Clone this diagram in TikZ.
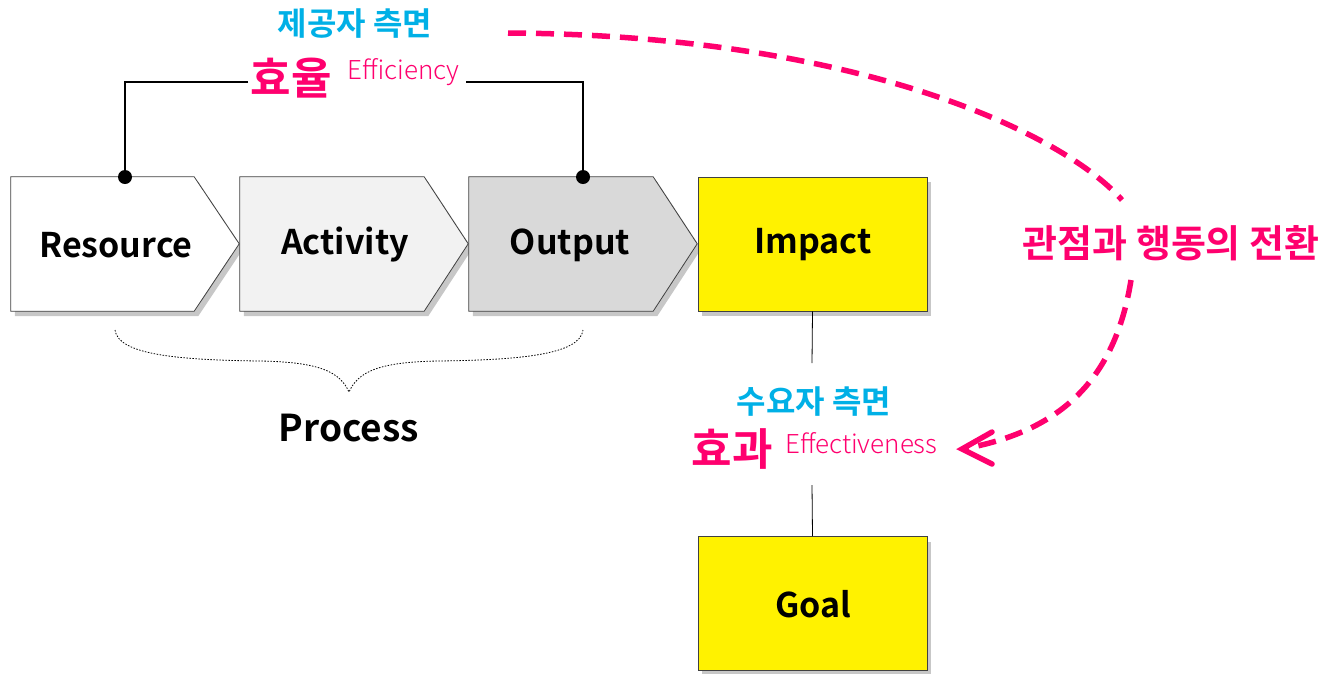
\documentclass[tikz,border=0pt]{standalone}
\usepackage{fontspec}
\setmainfont{Noto Sans CJK KR}
\newfontfamily\krb{Noto Sans CJK KR Bold}
\newfontfamily\krl{Noto Sans CJK KR Light}
\usetikzlibrary{shadows}
\definecolor{hpink}{RGB}{255,0,110}
\definecolor{hcyan}{RGB}{0,176,230}
\definecolor{hgrayA}{RGB}{242,242,242}
\definecolor{hgrayB}{RGB}{217,217,217}
\tikzset{
  stepshape/.style={draw=black!75, line width=0.8pt, drop shadow={shadow xshift=4pt, shadow yshift=-5pt, opacity=0.22, fill=black}},
  boxshape/.style={draw=black!75, line width=0.8pt, fill=yellow, minimum width=229pt, minimum height=134pt, drop shadow={shadow xshift=4pt, shadow yshift=-5pt, opacity=0.22, fill=black}},
  bigword/.style={font=\krb\fontsize{34}{36}\selectfont, text=black, inner sep=0pt},
  cyanlab/.style={font=\krb\fontsize{32}{34}\selectfont, text=hcyan, inner sep=0pt},
  pinkbig/.style={font=\krb\fontsize{44}{46}\selectfont, text=hpink, inner sep=0pt},
  pinksmall/.style={font=\krl\fontsize{26}{28}\selectfont, text=hpink, inner sep=0pt},
  pinkdash/.style={draw=hpink, line width=5.5pt, dash pattern=on 18pt off 10pt},
  bracket/.style={draw=black, line width=2.2pt},
  thinline/.style={draw=black, line width=0.8pt}
}
\begin{document}
\begin{tikzpicture}[x=1pt,y=-1pt]
\useasboundingbox (0,0) rectangle (1332,673);
% step bodies (named rectangles as anchors)
\node (res) [minimum width=183pt, minimum height=134pt, inner sep=0pt] at (102.5,244) {};
\node (act) [minimum width=184pt, minimum height=134pt, inner sep=0pt] at (332,244) {};
\node (out) [minimum width=184pt, minimum height=134pt, inner sep=0pt] at (561,244) {};
\path[stepshape, fill=white] (res.north west) -- (res.north east) -- ++(45,67) -- (res.south east) -- (res.south west) -- cycle;
\path[stepshape, fill=hgrayA] (act.north west) -- (act.north east) -- ++(44,67) -- (act.south east) -- (act.south west) -- cycle;
\path[stepshape, fill=hgrayB] (out.north west) -- (out.north east) -- ++(44,67) -- (out.south east) -- (out.south west) -- cycle;
\node[bigword] (rest) at (116,245) {Resource};
\node[bigword] (actt) at (345,245) {Activity};
\node[bigword] (outt) at (570,245) {Output};
% boxes
\node[boxshape] (imp) at (812.5,244) {};
\node[bigword] (impt) at (813,245) {Impact};
\node[boxshape] (goal) at (812.5,603.5) {};
\node[bigword] (goalt) at (813,604) {Goal};
% top labels
\node[cyanlab] (prov) at (355,24) {제공자 측면};
\node[pinkbig] (eff1) at (291,78) {효율};
\node[pinksmall, anchor=west] (eff1e) at (347,72) {Efficiency};
% bracket
\coordinate (bl) at (248,82);
\coordinate (br) at (466,82);
\draw[bracket] (bl) -- (125,82) -- (125,177);
\draw[bracket] (br) -- (583,82) -- (583,177);
\fill (125,177) circle (7pt);
\fill (583,177) circle (7pt);
% process brace
\draw[black, line width=0.8pt, dash pattern=on 1.5pt off 1.5pt] (115,330) .. controls (118,355) and (180,360) .. (260,361) .. controls (320,362) and (340,372) .. (349,392) .. controls (358,372) and (378,362) .. (438,361) .. controls (518,360) and (580,355) .. (583,330);
\node[font=\krb\fontsize{37}{39}\selectfont, inner sep=0pt] (proc) at (349,428) {Process};
% demand side labels
\coordinate (il) at (812,363);
\coordinate (gl) at (812,485);
\draw[thinline] (imp.south) -- (il);
\draw[thinline] (gl) -- (goal.north);
\node[cyanlab] (dem) at (814,402) {수요자 측면};
\node[pinkbig] (eff2) at (732,449) {효과};
\node[pinksmall, anchor=west] (eff2e) at (785,443) {Effectiveness};
% perspective shift
\node[font=\krb\fontsize{38}{40}\selectfont, text=hpink, inner sep=0pt] (shift) at (1171,243) {관점과 행동의 전환};
\coordinate (s0) at (508,33);
\coordinate (s1) at (1122,200);
\coordinate (s2) at (1131,280);
\coordinate (tip) at (962,449);
\draw[pinkdash] (s0) .. controls (850,35) and (1060,130) .. (s1);
\draw[pinkdash] (s2) .. controls (1115,380) and (1060,432) .. (tip);
\draw[draw=hpink, line width=5.5pt, line cap=round] (992,432) -- (tip) -- (992,464);
\end{tikzpicture}
\end{document}
